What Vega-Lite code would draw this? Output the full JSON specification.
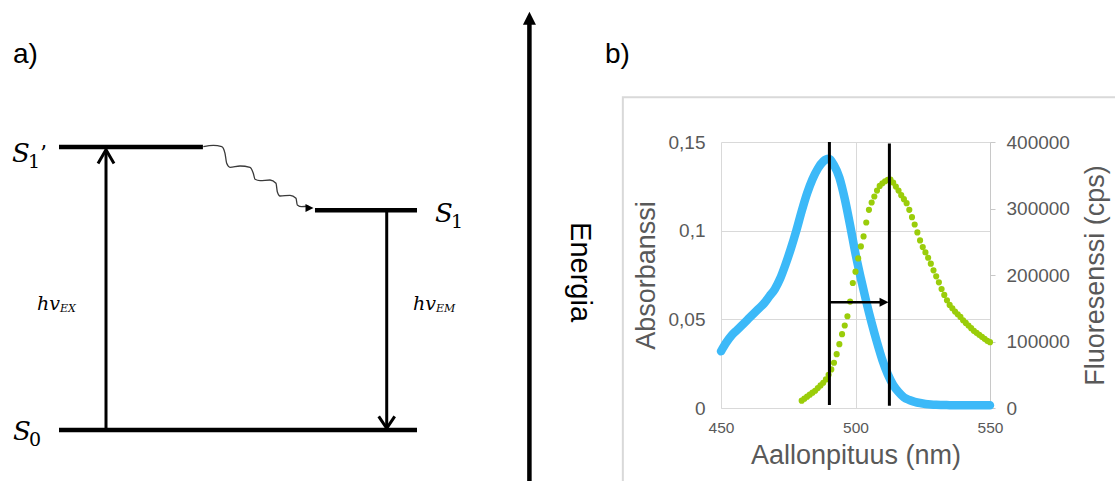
{
  "$schema": "https://vega.github.io/schema/vega-lite/v6.json",
  "width": 269,
  "height": 266,
  "padding": {"left": 721, "top": 142, "right": 125, "bottom": 73},
  "autosize": {"type": "none"},
  "background": "white",
  "config": {
    "view": {"stroke": null},
    "axis": {
      "labelFont": "Liberation Sans",
      "titleFont": "Liberation Sans",
      "labelColor": "#595959",
      "titleColor": "#595959",
      "titleFontWeight": "normal",
      "gridColor": "#D9D9D9",
      "gridWidth": 1,
      "domainColor": "#D9D9D9",
      "tickColor": "#BFBFBF",
      "labelOverlap": false,
      "labelFlush": false
    }
  },
  "datasets": {
    "frame": [{"x1": 15.75, "x2": 40, "e1": 11.756, "e2": -5}],
    "levels": [
      {"state": "S0", "x1": 0, "x2": 10, "e": 0},
      {"state": "S1'", "x1": 0, "x2": 4.02, "e": 10},
      {"state": "S1", "x1": 7.15, "x2": 10, "e": 7.763}
    ],
    "transitions": [
      {"name": "hvEX", "dir": "up", "x": 1.313, "e1": 0, "e2": 9.9},
      {"name": "hvEM", "dir": "down", "x": 9.154, "e1": 7.763, "e2": 0.06}
    ],
    "wave": [
      {"x": 4.031, "e": 10.011}, {"x": 4.31, "e": 10.06}, {"x": 4.545, "e": 10.011},
      {"x": 4.637, "e": 9.777}, {"x": 4.684, "e": 9.424}, {"x": 4.777, "e": 9.283},
      {"x": 5.056, "e": 9.329}, {"x": 5.335, "e": 9.283}, {"x": 5.427, "e": 9.071},
      {"x": 5.475, "e": 8.859}, {"x": 5.615, "e": 8.809}, {"x": 5.894, "e": 8.834},
      {"x": 6.061, "e": 8.717}, {"x": 6.098, "e": 8.42}, {"x": 6.173, "e": 8.269},
      {"x": 6.453, "e": 8.293}, {"x": 6.62, "e": 8.187}, {"x": 6.656, "e": 7.951},
      {"x": 6.779, "e": 7.89}, {"x": 6.964, "e": 7.915}
    ],
    "waveHead": [{"x": 7.109, "e": 7.845}],
    "energy": [{"x": 13.14, "e1": -2, "e2": 14.35, "tip": 14.78}],
    "energyLabel": [{"text": "Energia", "x": 14.55, "e": 5.58}],
    "panels": [{"text": "a)", "x": -1.285, "e": 12.96}, {"text": "b)", "x": 15.25, "e": 12.96}],
    "states": [
      {"main": "S", "sub": "1", "prime": "’", "x": -1.313, "e": 9.47},
      {"main": "S", "sub": "1", "prime": "", "x": 10.503, "e": 7.35},
      {"main": "S", "sub": "0", "prime": "", "x": -1.285, "e": -0.353}
    ],
    "photons": [
      {"main": "hv", "sub": "EX", "x": -0.615, "e": 4.24},
      {"main": "hv", "sub": "EM", "x": 9.888, "e": 4.24}
    ],
    "absorbance": [
      {"wl": 450, "a": 0.032}, {"wl": 452, "a": 0.037}, {"wl": 454, "a": 0.041},
      {"wl": 456, "a": 0.044}, {"wl": 458, "a": 0.047}, {"wl": 460, "a": 0.05},
      {"wl": 462, "a": 0.053}, {"wl": 464, "a": 0.056}, {"wl": 466, "a": 0.059},
      {"wl": 468, "a": 0.063}, {"wl": 470, "a": 0.067}, {"wl": 472, "a": 0.073},
      {"wl": 474, "a": 0.081}, {"wl": 476, "a": 0.09}, {"wl": 478, "a": 0.1},
      {"wl": 480, "a": 0.111}, {"wl": 482, "a": 0.121}, {"wl": 484, "a": 0.129},
      {"wl": 486, "a": 0.135}, {"wl": 488, "a": 0.139}, {"wl": 490, "a": 0.1405},
      {"wl": 492, "a": 0.137}, {"wl": 494, "a": 0.13}, {"wl": 496, "a": 0.118},
      {"wl": 498, "a": 0.103}, {"wl": 500, "a": 0.087}, {"wl": 502, "a": 0.073},
      {"wl": 504, "a": 0.06}, {"wl": 506, "a": 0.048}, {"wl": 508, "a": 0.037},
      {"wl": 510, "a": 0.027}, {"wl": 512, "a": 0.019}, {"wl": 514, "a": 0.013},
      {"wl": 516, "a": 0.009}, {"wl": 518, "a": 0.006}, {"wl": 520, "a": 0.0045},
      {"wl": 522, "a": 0.0035}, {"wl": 524, "a": 0.0028}, {"wl": 526, "a": 0.0023},
      {"wl": 528, "a": 0.002}, {"wl": 530, "a": 0.0018}, {"wl": 535, "a": 0.0016},
      {"wl": 540, "a": 0.0015}, {"wl": 545, "a": 0.0015}, {"wl": 550, "a": 0.0015}
    ],
    "fluorescence": [
      {"wl": 480, "f": 11000}, {"wl": 481, "f": 14000}, {"wl": 482, "f": 17000},
      {"wl": 483, "f": 20000}, {"wl": 484, "f": 23000}, {"wl": 485, "f": 26000},
      {"wl": 486, "f": 30000}, {"wl": 487, "f": 34000}, {"wl": 488, "f": 38000},
      {"wl": 489, "f": 43000}, {"wl": 490, "f": 50000}, {"wl": 491, "f": 58000},
      {"wl": 492, "f": 68000}, {"wl": 493, "f": 81000}, {"wl": 494, "f": 96000},
      {"wl": 495, "f": 111000}, {"wl": 496, "f": 124000}, {"wl": 497, "f": 138000},
      {"wl": 498, "f": 160000}, {"wl": 499, "f": 188000}, {"wl": 500, "f": 205000},
      {"wl": 501, "f": 225000}, {"wl": 502, "f": 243000}, {"wl": 503, "f": 258000},
      {"wl": 504, "f": 279000}, {"wl": 505, "f": 298000}, {"wl": 506, "f": 309000},
      {"wl": 507, "f": 318000}, {"wl": 508, "f": 327000}, {"wl": 509, "f": 334000},
      {"wl": 510, "f": 338000}, {"wl": 511, "f": 341000}, {"wl": 512, "f": 343000},
      {"wl": 513, "f": 343500}, {"wl": 514, "f": 339000}, {"wl": 515, "f": 333000},
      {"wl": 516, "f": 327000}, {"wl": 517, "f": 320000}, {"wl": 518, "f": 314000},
      {"wl": 519, "f": 308000}, {"wl": 520, "f": 298000}, {"wl": 521, "f": 287000},
      {"wl": 522, "f": 276000}, {"wl": 523, "f": 264000}, {"wl": 524, "f": 252000},
      {"wl": 525, "f": 242000}, {"wl": 526, "f": 234000}, {"wl": 527, "f": 226000},
      {"wl": 528, "f": 217000}, {"wl": 529, "f": 207000}, {"wl": 530, "f": 198000},
      {"wl": 531, "f": 189000}, {"wl": 532, "f": 179000}, {"wl": 533, "f": 170000},
      {"wl": 534, "f": 162000}, {"wl": 535, "f": 155000}, {"wl": 536, "f": 150000},
      {"wl": 537, "f": 145000}, {"wl": 538, "f": 141000}, {"wl": 539, "f": 137000},
      {"wl": 540, "f": 132000}, {"wl": 541, "f": 128000}, {"wl": 542, "f": 124000},
      {"wl": 543, "f": 120000}, {"wl": 544, "f": 116000}, {"wl": 545, "f": 113000},
      {"wl": 546, "f": 110000}, {"wl": 547, "f": 107000}, {"wl": 548, "f": 104000},
      {"wl": 549, "f": 101000}, {"wl": 550, "f": 99000}
    ],
    "markers": [
      {"wl": 490.3, "top": 0.15, "bottom": 0.0017},
      {"wl": 512.6, "top": 0.1492, "bottom": 0.0013}
    ],
    "shift": [{"from": 490.3, "to": 510.8, "tip": 512.3, "a": 0.0596}]
  },
  "resolve": {"scale": {"x": "independent", "y": "independent"}},
  "layer": [
    {
      "data": {"name": "frame"},
      "mark": {"type": "rect", "fill": "white", "fillOpacity": 0, "stroke": "#D9D9D9", "strokeWidth": 2},
      "encoding": {
        "x": {"field": "x1", "type": "quantitative", "scale": {"domain": [0, 10], "range": [-662, -304]}, "axis": null},
        "x2": {"field": "x2"},
        "y": {"field": "e1", "type": "quantitative", "scale": {"domain": [0, 10], "range": [288, 5]}, "axis": null},
        "y2": {"field": "e2"}
      }
    },
    {
      "data": {"name": "levels"},
      "mark": {"type": "rule", "color": "black", "strokeWidth": 4.5, "strokeCap": "butt"},
      "encoding": {
        "x": {"field": "x1", "type": "quantitative", "scale": {"domain": [0, 10], "range": [-662, -304]}, "axis": null},
        "x2": {"field": "x2"},
        "y": {"field": "e", "type": "quantitative", "scale": {"domain": [0, 10], "range": [288, 5]}, "axis": null}
      }
    },
    {
      "data": {"name": "transitions"},
      "mark": {"type": "rule", "color": "black", "strokeWidth": 3, "strokeCap": "butt"},
      "encoding": {
        "x": {"field": "x", "type": "quantitative", "scale": {"domain": [0, 10], "range": [-662, -304]}, "axis": null},
        "y": {"field": "e1", "type": "quantitative", "scale": {"domain": [0, 10], "range": [288, 5]}, "axis": null},
        "y2": {"field": "e2"}
      }
    },
    {
      "data": {"name": "transitions"},
      "transform": [{"filter": "datum.dir === 'up'"}],
      "mark": {"type": "point", "shape": "M -1 1.7 L 0 0 L 1 1.7", "filled": false, "color": "black", "strokeWidth": 3, "strokeJoin": "miter", "size": 256, "opacity": 1},
      "encoding": {
        "x": {"field": "x", "type": "quantitative", "scale": {"domain": [0, 10], "range": [-662, -304]}, "axis": null},
        "y": {"field": "e2", "type": "quantitative", "scale": {"domain": [0, 10], "range": [288, 5]}, "axis": null}
      }
    },
    {
      "data": {"name": "transitions"},
      "transform": [{"filter": "datum.dir === 'down'"}],
      "mark": {"type": "point", "shape": "M -1 -1.5 L 0 0 L 1 -1.5", "filled": false, "color": "black", "strokeWidth": 3, "strokeJoin": "miter", "size": 256, "opacity": 1},
      "encoding": {
        "x": {"field": "x", "type": "quantitative", "scale": {"domain": [0, 10], "range": [-662, -304]}, "axis": null},
        "y": {"field": "e2", "type": "quantitative", "scale": {"domain": [0, 10], "range": [288, 5]}, "axis": null}
      }
    },
    {
      "data": {"name": "wave"},
      "mark": {"type": "line", "color": "#3A3A3A", "strokeWidth": 1.3, "interpolate": "monotone"},
      "encoding": {
        "x": {"field": "x", "type": "quantitative", "scale": {"domain": [0, 10], "range": [-662, -304]}, "axis": null},
        "y": {"field": "e", "type": "quantitative", "scale": {"domain": [0, 10], "range": [288, 5]}, "axis": null}
      }
    },
    {
      "data": {"name": "waveHead"},
      "mark": {"type": "point", "shape": "M -2 -1 L 0 0 L -2 1 Z", "filled": true, "color": "black", "size": 64, "opacity": 1},
      "encoding": {
        "x": {"field": "x", "type": "quantitative", "scale": {"domain": [0, 10], "range": [-662, -304]}, "axis": null},
        "y": {"field": "e", "type": "quantitative", "scale": {"domain": [0, 10], "range": [288, 5]}, "axis": null}
      }
    },
    {
      "data": {"name": "energy"},
      "mark": {"type": "rule", "color": "black", "strokeWidth": 4.5, "strokeCap": "butt"},
      "encoding": {
        "x": {"field": "x", "type": "quantitative", "scale": {"domain": [0, 10], "range": [-662, -304]}, "axis": null},
        "y": {"field": "e1", "type": "quantitative", "scale": {"domain": [0, 10], "range": [288, 5]}, "axis": null},
        "y2": {"field": "e2"}
      }
    },
    {
      "data": {"name": "energy"},
      "mark": {"type": "point", "shape": "M -1 2 L 0 0 L 1 2 Z", "filled": true, "color": "black", "size": 169, "opacity": 1},
      "encoding": {
        "x": {"field": "x", "type": "quantitative", "scale": {"domain": [0, 10], "range": [-662, -304]}, "axis": null},
        "y": {"field": "tip", "type": "quantitative", "scale": {"domain": [0, 10], "range": [288, 5]}, "axis": null}
      }
    },
    {
      "data": {"name": "energyLabel"},
      "mark": {"type": "text", "font": "Liberation Sans", "fontSize": 29, "angle": 90, "align": "center", "baseline": "middle", "color": "black"},
      "encoding": {
        "x": {"field": "x", "type": "quantitative", "scale": {"domain": [0, 10], "range": [-662, -304]}, "axis": null},
        "y": {"field": "e", "type": "quantitative", "scale": {"domain": [0, 10], "range": [288, 5]}, "axis": null},
        "text": {"field": "text"}
      }
    },
    {
      "data": {"name": "panels"},
      "mark": {"type": "text", "font": "Liberation Sans", "fontSize": 28, "align": "left", "baseline": "alphabetic", "color": "black"},
      "encoding": {
        "x": {"field": "x", "type": "quantitative", "scale": {"domain": [0, 10], "range": [-662, -304]}, "axis": null},
        "y": {"field": "e", "type": "quantitative", "scale": {"domain": [0, 10], "range": [288, 5]}, "axis": null},
        "text": {"field": "text"}
      }
    },
    {
      "data": {"name": "states"},
      "mark": {"type": "text", "font": "DejaVu Serif", "fontStyle": "italic", "fontSize": 26, "align": "left", "baseline": "alphabetic", "color": "black"},
      "encoding": {
        "x": {"field": "x", "type": "quantitative", "scale": {"domain": [0, 10], "range": [-662, -304]}, "axis": null},
        "y": {"field": "e", "type": "quantitative", "scale": {"domain": [0, 10], "range": [288, 5]}, "axis": null},
        "text": {"field": "main"}
      }
    },
    {
      "data": {"name": "states"},
      "mark": {"type": "text", "font": "DejaVu Serif", "fontSize": 19, "align": "left", "baseline": "alphabetic", "color": "black", "dx": 16, "dy": 6},
      "encoding": {
        "x": {"field": "x", "type": "quantitative", "scale": {"domain": [0, 10], "range": [-662, -304]}, "axis": null},
        "y": {"field": "e", "type": "quantitative", "scale": {"domain": [0, 10], "range": [288, 5]}, "axis": null},
        "text": {"field": "sub"}
      }
    },
    {
      "data": {"name": "states"},
      "transform": [{"filter": "datum.prime !== ''"}],
      "mark": {"type": "text", "font": "DejaVu Serif", "fontSize": 22, "align": "left", "baseline": "alphabetic", "color": "black", "dx": 28, "dy": -1},
      "encoding": {
        "x": {"field": "x", "type": "quantitative", "scale": {"domain": [0, 10], "range": [-662, -304]}, "axis": null},
        "y": {"field": "e", "type": "quantitative", "scale": {"domain": [0, 10], "range": [288, 5]}, "axis": null},
        "text": {"field": "prime"}
      }
    },
    {
      "data": {"name": "photons"},
      "mark": {"type": "text", "font": "DejaVu Serif", "fontStyle": "italic", "fontSize": 19, "align": "left", "baseline": "alphabetic", "color": "black"},
      "encoding": {
        "x": {"field": "x", "type": "quantitative", "scale": {"domain": [0, 10], "range": [-662, -304]}, "axis": null},
        "y": {"field": "e", "type": "quantitative", "scale": {"domain": [0, 10], "range": [288, 5]}, "axis": null},
        "text": {"field": "main"}
      }
    },
    {
      "data": {"name": "photons"},
      "mark": {"type": "text", "font": "DejaVu Serif", "fontStyle": "italic", "fontSize": 11, "align": "left", "baseline": "alphabetic", "color": "black", "dx": 23, "dy": 2},
      "encoding": {
        "x": {"field": "x", "type": "quantitative", "scale": {"domain": [0, 10], "range": [-662, -304]}, "axis": null},
        "y": {"field": "e", "type": "quantitative", "scale": {"domain": [0, 10], "range": [288, 5]}, "axis": null},
        "text": {"field": "sub"}
      }
    },
    {
      "data": {"name": "absorbance"},
      "mark": {"type": "line", "color": "#3CB9F8", "strokeWidth": 8.5, "strokeCap": "round", "strokeJoin": "round", "interpolate": "monotone"},
      "encoding": {
        "x": {
          "field": "wl", "type": "quantitative",
          "scale": {"domain": [450, 550]},
          "axis": {"orient": "bottom", "values": [450, 500, 550], "grid": true, "ticks": false, "domain": true, "labelFontSize": 15.5, "labelPadding": 12, "title": "Aallonpituus (nm)", "titleFontSize": 27, "titlePadding": 7}
        },
        "y": {
          "field": "a", "type": "quantitative",
          "scale": {"domain": [0, 0.15]},
          "axis": {"orient": "left", "values": [0, 0.05, 0.1, 0.15], "format": ".2~f", "labelExpr": "replace(datum.label, '.', ',')", "grid": true, "ticks": false, "tickSize": 0, "domain": false, "labelFontSize": 19, "labelPadding": 16, "title": "Absorbanssi", "titleFontSize": 27, "titlePadding": 8}
        }
      }
    },
    {
      "data": {"name": "fluorescence"},
      "mark": {"type": "point", "filled": true, "color": "#9ACD0A", "size": 38, "opacity": 1},
      "encoding": {
        "x": {"field": "wl", "type": "quantitative", "scale": {"domain": [450, 550]}, "axis": null},
        "y": {
          "field": "f", "type": "quantitative",
          "scale": {"domain": [0, 400000]},
          "axis": {"orient": "right", "values": [0, 100000, 200000, 300000, 400000], "format": "d", "grid": false, "ticks": true, "tickSize": 5, "domain": true, "domainColor": "#C8C8C8", "tickColor": "#C8C8C8", "labelFontSize": 19, "labelPadding": 11, "title": "Fluoresenssi (cps)", "titleFontSize": 27, "titleAngle": 270, "titleBaseline": "top", "titlePadding": 13}
        }
      }
    },
    {
      "data": {"name": "markers"},
      "mark": {"type": "rule", "color": "black", "strokeWidth": 3, "strokeCap": "butt"},
      "encoding": {
        "x": {"field": "wl", "type": "quantitative", "scale": {"domain": [450, 550]}, "axis": null},
        "y": {"field": "top", "type": "quantitative", "scale": {"domain": [0, 0.15]}, "axis": null},
        "y2": {"field": "bottom"}
      }
    },
    {
      "data": {"name": "shift"},
      "mark": {"type": "rule", "color": "black", "strokeWidth": 2.5, "strokeCap": "butt"},
      "encoding": {
        "x": {"field": "from", "type": "quantitative", "scale": {"domain": [450, 550]}, "axis": null},
        "x2": {"field": "to"},
        "y": {"field": "a", "type": "quantitative", "scale": {"domain": [0, 0.15]}, "axis": null}
      }
    },
    {
      "data": {"name": "shift"},
      "mark": {"type": "point", "shape": "M -2 -1 L 0 0 L -2 1 Z", "filled": true, "color": "black", "size": 81, "opacity": 1},
      "encoding": {
        "x": {"field": "tip", "type": "quantitative", "scale": {"domain": [450, 550]}, "axis": null},
        "y": {"field": "a", "type": "quantitative", "scale": {"domain": [0, 0.15]}, "axis": null}
      }
    }
  ]
}
